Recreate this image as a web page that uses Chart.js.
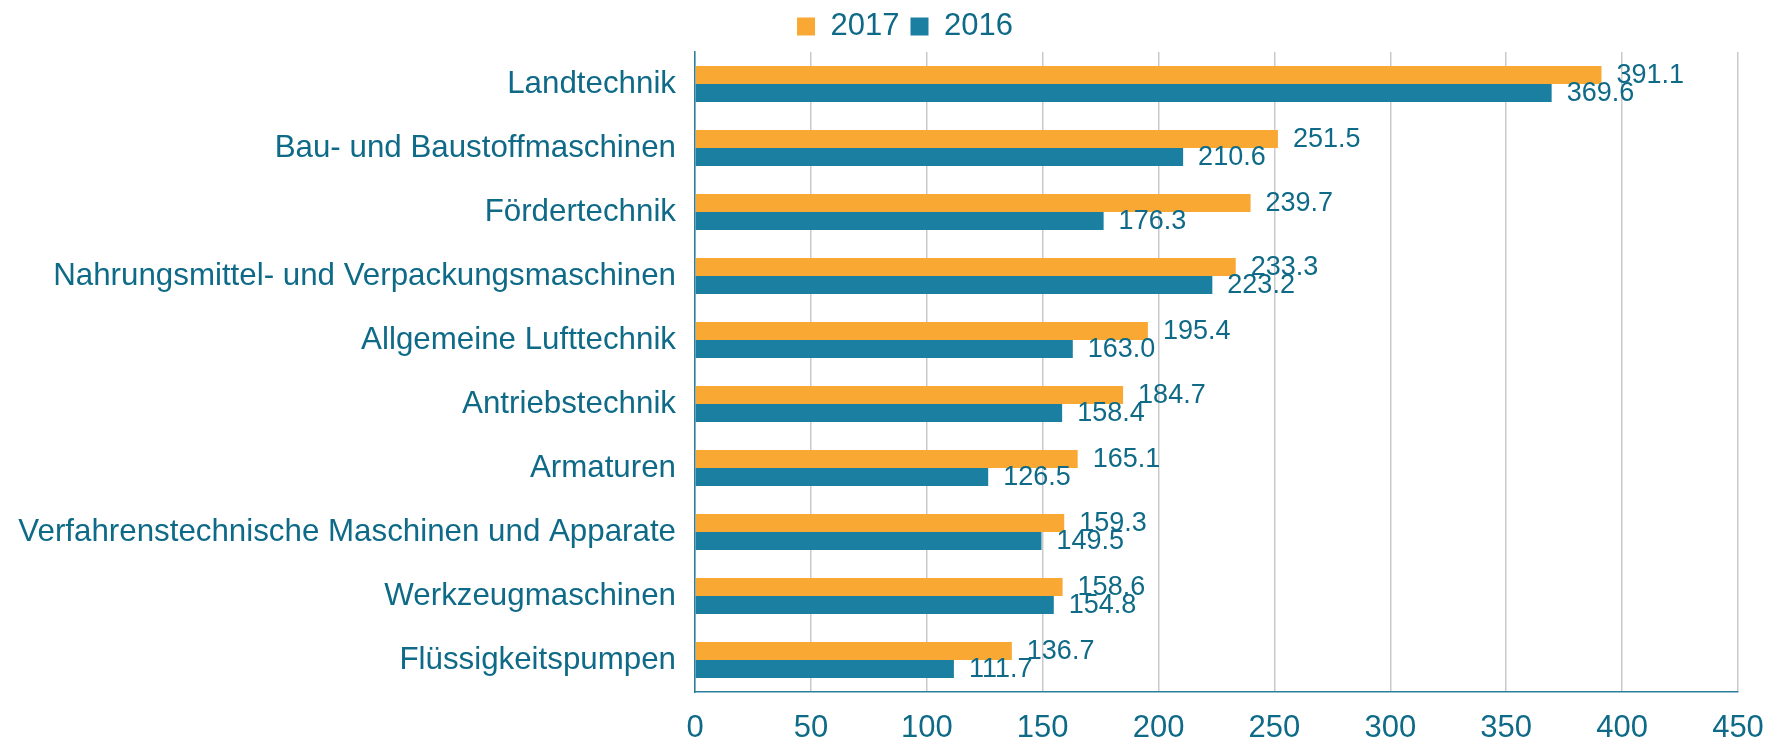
<!DOCTYPE html>
<html lang="de">
<head>
<meta charset="utf-8">
<title>Maschinenbau 2016 / 2017</title>
<script src="https://cdn.jsdelivr.net/npm/chart.js@4.4.1/dist/chart.umd.min.js"></script>
<style>
    html, body { margin: 0; padding: 0; background: #ffffff; }
    #wrap { width: 1767px; height: 744px; }
</style>
</head>
<body>
<div id="wrap"><canvas id="chart" width="1767" height="744"></canvas></div>
<script>
// ====== Daten ======
const categories = [
    'Landtechnik',
    'Bau- und Baustoffmaschinen',
    'Fördertechnik',
    'Nahrungsmittel- und Verpackungsmaschinen',
    'Allgemeine Lufttechnik',
    'Antriebstechnik',
    'Armaturen',
    'Verfahrenstechnische Maschinen und Apparate',
    'Werkzeugmaschinen',
    'Flüssigkeitspumpen',
];
const values2017 = [391.1, 251.5, 239.7, 233.3, 195.4, 184.7, 165.1, 159.3, 158.6, 136.7];
const values2016 = [369.6, 210.6, 176.3, 223.2, 163.0, 158.4, 126.5, 149.5, 154.8, 111.7];
const xTicks = [0, 50, 100, 150, 200, 250, 300, 350, 400, 450];

// ====== Farben & Schrift ======
const ORANGE = '#f9a833';
const BLUE = '#1b7fa1';
const TEXT = '#0e6a87';
const AXIS = '#2b7f9c';
const GRID = '#c9c9c9';
const FONT = "'Liberation Sans', Arial, sans-serif";

Chart.defaults.font.family = FONT;
Chart.defaults.color = TEXT;

// Wertebeschriftung rechts neben jedem Balken
const valueLabels = {
    id: 'valueLabels',
    afterDatasetsDraw(chart) {
        const { ctx } = chart;
        ctx.save();
        ctx.font = `27px ${FONT}`;
        ctx.fillStyle = TEXT;
        ctx.textAlign = 'left';
        ctx.textBaseline = 'middle';
        chart.data.datasets.forEach((ds, i) => {
            chart.getDatasetMeta(i).data.forEach((bar, j) => {
                ctx.fillText(ds.data[j].toFixed(1), bar.x + 15, bar.y + 1);
            });
        });
        ctx.restore();
    },
};

// Legende etwas nach rechts schieben (wie im Original)
const legendShift = {
    id: 'legendShift',
    afterLayout(chart) {
        chart.legend.left += 36;
        chart.legend.right += 36;
    },
};

new Chart(document.getElementById('chart'), {
    type: 'bar',
    data: {
        labels: categories,
        datasets: [
            { label: '2017', data: values2017, backgroundColor: ORANGE },
            { label: '2016', data: values2016, backgroundColor: BLUE },
        ],
    },
    options: {
        indexAxis: 'y',
        responsive: false,
        animation: false,
        layout: { padding: { left: 0, right: 29, top: 0, bottom: 0 } },
        datasets: { bar: { categoryPercentage: 0.565, barPercentage: 1.0 } },
        plugins: {
            legend: {
                position: 'top',
                labels: {
                    font: { size: 31 },
                    color: TEXT,
                    boxWidth: 18,
                    boxHeight: 18,
                    padding: 11,
                },
            },
            tooltip: { enabled: false },
        },
        scales: {
            x: {
                min: 0,
                max: 450,
                afterBuildTicks: (scale) => { scale.ticks = xTicks.map((v) => ({ value: v })); },
                afterFit: (scale) => {
                    scale.height = 52;
                    scale.paddingLeft = 0;
                    scale.paddingRight = 0;
                },
                grid: { color: GRID, lineWidth: 1.5, drawTicks: false },
                border: { color: AXIS, width: 1.5 },
                ticks: { font: { size: 31 }, color: TEXT, padding: 18 },
            },
            y: {
                afterFit: (scale) => { scale.width = 695; },
                grid: { drawOnChartArea: false, drawTicks: false },
                border: { color: AXIS, width: 1.5 },
                ticks: { font: { size: 31.3 }, color: TEXT, padding: 19 },
            },
        },
    },
    plugins: [valueLabels, legendShift],
});
</script>
</body>
</html>
